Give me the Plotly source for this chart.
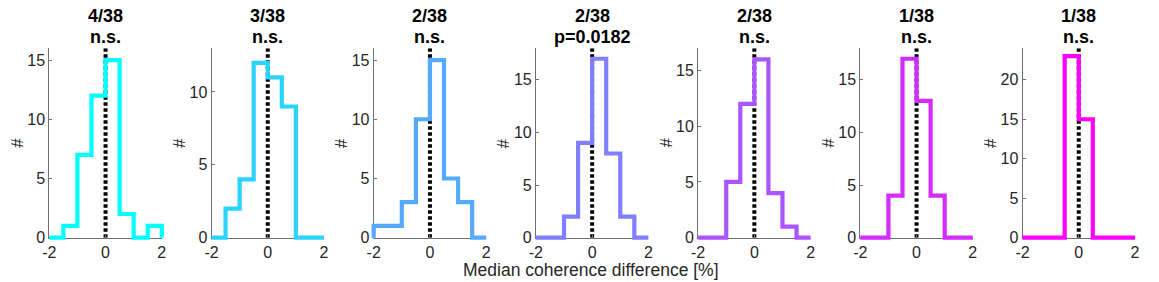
import plotly.graph_objects as go

# ---- data ----
bin_edges = [-2, -1.5, -1, -0.5, 0, 0.5, 1, 1.5, 2]
counts_1 = [0, 1, 7, 12, 15, 2, 0, 1]
counts_2 = [0, 2, 4, 12, 11, 9, 0, 0]
counts_3 = [1, 1, 3, 10, 15, 5, 3, 0]
counts_4 = [0, 0, 2, 9, 17, 8, 2, 0]
counts_5 = [0, 0, 5, 12, 16, 4, 1, 0]
counts_6 = [0, 0, 4, 17, 13, 4, 0, 0]
counts_7 = [0, 0, 0, 23, 15, 0, 0, 0]
all_counts = [counts_1, counts_2, counts_3, counts_4, counts_5, counts_6, counts_7]
titles_top = ["4/38", "3/38", "2/38", "2/38", "2/38", "1/38", "1/38"]
titles_bottom = ["n.s.", "n.s.", "n.s.", "p=0.0182", "n.s.", "n.s.", "n.s."]
y_max = [16, 13, 16, 18, 17, 18, 24]
y_ticks = [[0, 5, 10, 15], [0, 5, 10], [0, 5, 10, 15], [0, 5, 10, 15],
           [0, 5, 10, 15], [0, 5, 10, 15], [0, 5, 10, 15, 20]]
x_ticks = [-2, 0, 2]
x_tick_text = ["-2", "0", "2"]
median_line_x = 0
colors = ["#00FFFF", "#2BD4FF", "#55AAFF", "#807FFF", "#AA55FF", "#D42BFF", "#FF00FF"]
x_label = "Median coherence difference [%]"

# ---- layout geometry (pixels) ----
W, H = 1159, 282
left0, step, width = 49.3, 162.2, 112.5
ytop, ybot = 48.2, 237.7
pad = 5  # px, for un-clipped overlay axes

FONT = "Liberation Sans, Arial, Helvetica, sans-serif"
TEXT = "#262626"
AXC = "#707070"

fig = go.Figure()
layout = dict(
    width=W, height=H,
    margin=dict(l=0, r=0, t=0, b=0, pad=0, autoexpand=False),
    paper_bgcolor="white", plot_bgcolor="rgba(0,0,0,0)",
    showlegend=False,
    font=dict(family=FONT, color=TEXT, size=16),
)
annotations = []
n = len(all_counts)
for i in range(n):
    k = i + 1          # visible axes
    h = i + 1 + n      # hidden overlay axes
    L = left0 + step * i
    R = L + width
    ym = y_max[i]
    xs_ = "" if k == 1 else str(k)
    # visible axes
    layout["xaxis" + xs_] = dict(
        domain=[L / W, R / W], range=[-2, 2], anchor="y" + xs_,
        showline=True, linecolor=AXC, linewidth=1, showgrid=False, zeroline=False,
        ticks="inside", ticklen=3, tickcolor=AXC,
        tickvals=x_ticks, ticktext=x_tick_text, automargin=False,
        tickfont=dict(size=16, color=TEXT, family=FONT), fixedrange=True,
    )
    layout["yaxis" + xs_] = dict(
        domain=[1 - ybot / H, 1 - ytop / H], range=[0, ym], anchor="x" + xs_,
        showline=True, linecolor=AXC, linewidth=1, showgrid=False, zeroline=False,
        ticks="inside", ticklen=3, tickcolor=AXC, tickvals=y_ticks[i], automargin=False,
        tickfont=dict(size=16, color=TEXT, family=FONT), fixedrange=True,
    )
    # hidden overlay axes with identical mapping but slightly larger area
    dx = 4 * pad / width
    dy = ym * pad / (ybot - ytop)
    layout["xaxis" + str(h)] = dict(
        domain=[(L - pad) / W, (R + pad) / W], range=[-2 - dx, 2 + dx],
        anchor="y" + str(h), visible=False, fixedrange=True,
    )
    layout["yaxis" + str(h)] = dict(
        domain=[1 - (ybot + pad) / H, 1 - (ytop - pad) / H], range=[-dy, ym + dy],
        anchor="x" + str(h), visible=False, fixedrange=True,
    )
    # dotted median line
    fig.add_trace(go.Scatter(
        x=[median_line_x, median_line_x], y=[0, ym], mode="lines",
        line=dict(color="black", width=4, dash="3.5px,2.5px"),
        xaxis="x" + xs_, yaxis="y" + xs_, hoverinfo="skip",
    ))
    # stairs histogram
    c = all_counts[i]
    hx = [bin_edges[0]] + list(bin_edges)
    hy = [0] + list(c) + [0]
    fig.add_trace(go.Scatter(
        x=hx, y=hy, mode="lines", line=dict(color=colors[i], width=4.2, shape="hv"),
        xaxis="x" + str(h), yaxis="y" + str(h),
    ))
    cx = (L + R) / 2 / W
    annotations.append(dict(
        text="<b>" + titles_top[i] + "</b>", x=cx, y=1 - 16 / H, xref="paper", yref="paper",
        xanchor="center", yanchor="middle", showarrow=False,
        font=dict(size=18, color="black", family=FONT),
    ))
    annotations.append(dict(
        text="<b>" + titles_bottom[i] + "</b>", x=cx, y=1 - 37 / H, xref="paper", yref="paper",
        xanchor="center", yanchor="middle", showarrow=False,
        font=dict(size=18, color="black", family=FONT),
    ))
    annotations.append(dict(
        text="#", x=(L - 32.5) / W, y=1 - 143 / H, xref="paper", yref="paper",
        xanchor="center", yanchor="middle", showarrow=False, textangle=-90,
        font=dict(size=17, color=TEXT, family=FONT),
    ))

annotations.append(dict(
    text=x_label, x=591 / W, y=1 - 270 / H, xref="paper", yref="paper",
    xanchor="center", yanchor="middle", showarrow=False,
    font=dict(size=17.5, color=TEXT, family=FONT),
))
layout["annotations"] = annotations
fig.update_layout(**layout)
fig.write_html(
    "out.html",
    config={"displayModeBar": False, "staticPlot": True},
    post_script="document.body.style.margin='0px';document.body.style.overflow='hidden';",
)
